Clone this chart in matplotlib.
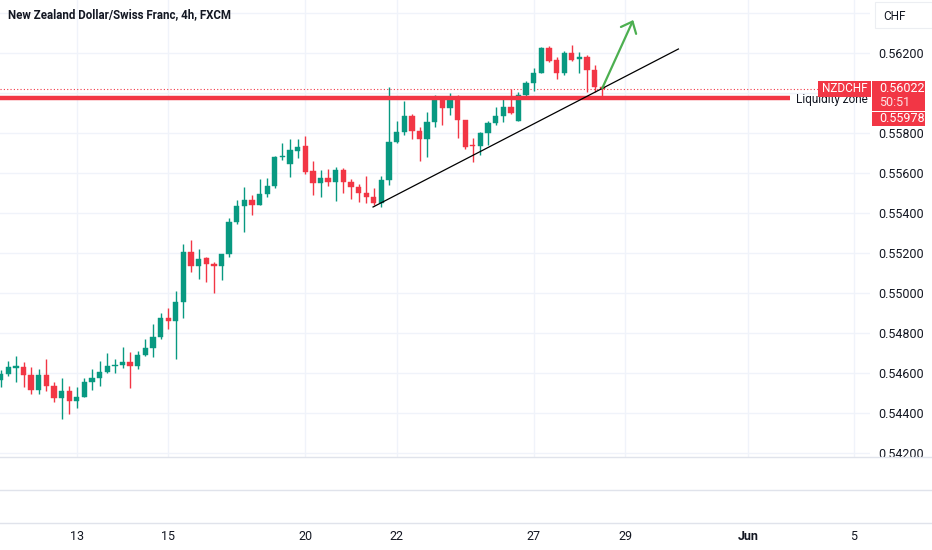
import numpy as np
import matplotlib
matplotlib.use("Agg")
import matplotlib.pyplot as plt
from matplotlib.patches import Rectangle
from matplotlib.lines import Line2D
import matplotlib.transforms as mtransforms

# ---------------- data ----------------
opens = [0.54565,0.54595,0.54627,0.54629,0.54592,0.54515,0.54592,0.54535,0.54477,0.5451,
0.5446,0.54482,0.54554,0.54577,0.54607,0.54635,0.54642,0.54654,0.54634,0.5469,
0.54724,0.54779,0.54874,0.54862,0.54955,0.55205,0.55135,0.55174,0.55145,0.55135,
0.55194,0.55357,0.55434,0.55464,0.5544,0.55497,0.55534,0.55682,0.55647,0.55712,
0.55735,0.5561,0.55549,0.55574,0.55554,0.55615,0.55557,0.55532,0.55499,0.55482,
0.55452,0.55565,0.55755,0.55804,0.55885,0.55812,0.5577,0.55854,0.55965,0.55924,
0.55979,0.55865,0.5574,0.55735,0.55802,0.55849,0.55885,0.55932,0.55862,0.5599,
0.56049,0.56102,0.56224,0.56165,0.56099,0.56199,0.56169,0.56182,0.56115,0.56032]

highs = [0.54615,0.5466,0.54687,0.54657,0.54632,0.54619,0.5467,0.54557,0.54574,0.54537,
0.54532,0.54574,0.54619,0.54662,0.54699,0.5467,0.54732,0.54707,0.5471,0.5477,
0.54845,0.54899,0.54924,0.55012,0.55244,0.55264,0.5522,0.55182,0.55157,0.55194,
0.55374,0.55465,0.55529,0.55489,0.55569,0.55574,0.55687,0.55752,0.55769,0.5577,
0.55785,0.55662,0.55615,0.55619,0.55629,0.55624,0.55569,0.55544,0.55585,0.55527,
0.55585,0.56032,0.55862,0.55962,0.55895,0.55832,0.55904,0.5599,0.55974,0.56002,
0.5599,0.55867,0.55774,0.55807,0.55862,0.55932,0.55979,0.56019,0.56007,0.5606,
0.56124,0.56229,0.56235,0.56182,0.56212,0.5624,0.56204,0.5619,0.5614,0.56035]

lows = [0.5453,0.54585,0.54557,0.54532,0.54494,0.54494,0.5451,0.54457,0.5437,0.54394,
0.54427,0.5448,0.54515,0.54535,0.54599,0.54599,0.54624,0.54527,0.5462,0.54686,
0.54682,0.54769,0.54819,0.5467,0.54874,0.55105,0.55069,0.55057,0.55002,0.55065,
0.55179,0.55344,0.55304,0.5539,0.55438,0.55482,0.55524,0.55665,0.55582,0.55674,
0.55594,0.5549,0.55482,0.55535,0.55462,0.55499,0.5547,0.55457,0.55449,0.5544,
0.55432,0.5554,0.55749,0.5579,0.55769,0.5566,0.55682,0.55832,0.5584,0.5589,
0.55774,0.55719,0.55657,0.5569,0.5574,0.5584,0.55857,0.55895,0.55859,0.55979,
0.56012,0.56099,0.56157,0.5607,0.5609,0.56162,0.56102,0.56007,0.56007,0.55982]

closes = [0.54595,0.54629,0.54634,0.54592,0.54515,0.54592,0.54535,0.54477,0.5451,0.5446,
0.54482,0.54554,0.54577,0.54607,0.54635,0.5464,0.54654,0.54634,0.5469,0.54724,
0.54779,0.54874,0.54862,0.54955,0.55205,0.55135,0.55172,0.55144,0.55135,0.55194,
0.55357,0.55434,0.55464,0.5544,0.55497,0.55534,0.55682,0.55687,0.55714,0.55732,
0.55607,0.55552,0.55574,0.55554,0.55615,0.55557,0.55532,0.55502,0.55482,0.55452,
0.55565,0.55755,0.55804,0.55885,0.55812,0.5577,0.55854,0.55965,0.55924,0.55965,
0.55865,0.55732,0.55735,0.55802,0.55849,0.55885,0.55932,0.55902,0.5599,0.56049,
0.56102,0.56224,0.56162,0.56099,0.56199,0.56165,0.56182,0.56115,0.56032,0.56022]

date_ticks = [10, 22, 40, 52, 70, 82, 98.1, 112]
date_labels = ["13", "15", "20", "22", "27", "29", "Jun", "5"]
price_ticks = [0.542, 0.544, 0.546, 0.548, 0.550, 0.552, 0.554, 0.556, 0.558, 0.562]
price_grid = [0.542, 0.544, 0.546, 0.548, 0.550, 0.552, 0.554, 0.556, 0.558, 0.560, 0.562, 0.564]

last_price = 0.56022
zone_price = 0.55976
zone_label_price = 0.55978
trend_x = [48.9, 89.0]
trend_y = [0.55430, 0.56220]
arrow_from = (79.0, 0.56024)
arrow_to = (83.07, 0.56365)

title = "New Zealand Dollar/Swiss Franc, 4h, FXCM"

# ---------------- style ----------------
GREEN = "#089981"
RED = "#f23645"
TXT = "#131722"
GRID = "#f0f3fa"
SEP = "#e0e3eb"
FONT = ["Roboto", "DejaVu Sans"]
plt.rcParams["font.family"] = FONT

W, H = 932, 550
fig = plt.figure(figsize=(W / 100, H / 100), dpi=100)
fig.patch.set_facecolor("white")

pane_bottom = 457
plot_right = 870
ax = fig.add_axes([0, 1 - pane_bottom / H, plot_right / W, pane_bottom / H])
ax.set_facecolor("white")
for s in ax.spines.values():
    s.set_visible(False)

x = np.arange(len(opens))
o = np.array(opens); h = np.array(highs); l = np.array(lows); c = np.array(closes)
up = c >= o
cols = np.where(up, GREEN, RED)

ax.set_xlim(-0.09, 114.16)
ax.set_ylim(0.54180, 0.56465)

# grid
for p in price_grid:
    ax.axhline(p, color=GRID, lw=1.0, zorder=0)
for t in date_ticks:
    ax.axvline(t, color=GRID, lw=1.0, zorder=0)

# candles
ax.vlines(x, l, h, colors=cols, lw=1.0, zorder=2)
bottoms = np.minimum(o, c)
heights = np.maximum(np.abs(c - o), 0.00002)
ax.bar(x, heights, bottom=bottoms, width=0.7, color=cols, edgecolor=cols, lw=0.3, zorder=3)

# current price dotted line
ax.axhline(last_price, color=RED, lw=0.8, ls=(0, (1, 2)), zorder=1)
# liquidity zone line
ax.hlines(zone_price, -1, 103.7, color=RED, lw=3.2, zorder=4)
ax.text(104.4, zone_price - 0.00009, "Liquidity zone", fontsize=8.5, color=TXT,
        va="center", ha="left", zorder=5)

# trend line
ax.plot(trend_x, trend_y, color="black", lw=0.9, zorder=5)
# arrow
ax.annotate("", xy=arrow_to, xytext=arrow_from,
            arrowprops=dict(arrowstyle="->,head_length=0.7,head_width=0.6",
                            color="#4caf50", lw=1.6, mutation_scale=10,
                            shrinkA=0, shrinkB=0), zorder=6)

# price axis labels
ax.yaxis.tick_right()
ax.set_yticks(price_ticks)
ax.set_yticklabels([f"{p:.5f}" for p in price_ticks])
ax.tick_params(axis="y", length=0, pad=6, labelsize=9, labelcolor=TXT)
ax.set_xticks([])

# date labels
trans = mtransforms.blended_transform_factory(ax.transData, fig.transFigure)
for t, lab in zip(date_ticks, date_labels):
    ax.text(t, 1 - 537 / H, lab, transform=trans, ha="center", va="center",
            fontsize=9, color=TXT, fontweight="bold" if lab == "Jun" else "normal",
            clip_on=False)

# lower panes (cover)
low = fig.add_axes([0, 1 - 523 / H, 1, (523 - pane_bottom) / H])
low.set_facecolor("white")
low.set_xticks([]); low.set_yticks([])
for s in low.spines.values():
    s.set_visible(False)
low.set_zorder(5)
for yy in (pane_bottom, 490, 523):
    fig.add_artist(Line2D([0, 1], [1 - yy / H, 1 - yy / H], color=SEP, lw=1.0,
                          transform=fig.transFigure, zorder=10))

def fx(px):
    return px / W

def fy(py):
    return 1 - py / H

# title
fig.text(fx(8), fy(15), title, fontsize=8.3, fontweight="bold", color=TXT,
         ha="left", va="center")

# CHF box
fig.add_artist(Rectangle((fx(875), fy(28)), fx(932) - fx(875), fy(2) - fy(28),
                         transform=fig.transFigure, fc="white", ec="#eceef2", lw=0.8, zorder=8))
fig.text(fx(883), fy(16), "CHF", fontsize=8.5, color=TXT, ha="left", va="center", zorder=9)

# NZDCHF box
fig.add_artist(Rectangle((fx(818), fy(97)), fx(871) - fx(818), fy(81) - fy(97),
                         transform=fig.transFigure, fc=RED, ec="none", zorder=8))
fig.text(fx(844.5), fy(89), "NZDCHF", fontsize=8.5, color="white", ha="center",
         va="center", zorder=9)

# price boxes
fig.add_artist(Rectangle((fx(872), fy(111)), fx(925) - fx(872), fy(81) - fy(111),
                         transform=fig.transFigure, fc=RED, ec="none", zorder=8))
fig.add_artist(Rectangle((fx(872), fy(126)), fx(925) - fx(872), fy(111.8) - fy(126),
                         transform=fig.transFigure, fc=RED, ec="none", zorder=8))
fig.text(fx(879), fy(89), f"{last_price:.5f}", fontsize=9, color="white",
         ha="left", va="center", zorder=9)
fig.text(fx(879), fy(103), "50:51", fontsize=9, color="#fde2e4", ha="left",
         va="center", zorder=9)
fig.text(fx(879), fy(119), f"{zone_label_price:.5f}", fontsize=9, color="white",
         ha="left", va="center", zorder=9)

fig.savefig("out.png", dpi=100, facecolor="white")
